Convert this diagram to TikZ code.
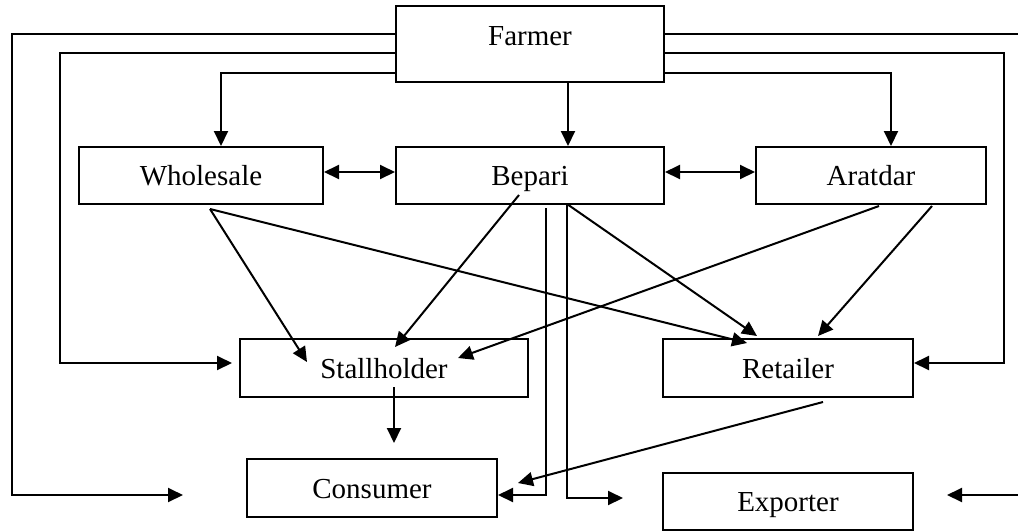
\documentclass[tikz,border=0pt]{standalone}
\usepackage{fontspec}
\setmainfont{Liberation Serif}
\usetikzlibrary{arrows.meta}
\begin{document}
\begin{tikzpicture}[x=1pt,y=-1pt,line width=2pt,
  box/.style={draw,rectangle,inner sep=0pt,font=\fontsize{29}{35}\selectfont,text height=20pt,text depth=0pt},
  arr/.style={-{Triangle[length=15pt,width=14pt]}},
  darr/.style={{Triangle[length=15pt,width=14pt]}-{Triangle[length=15pt,width=14pt]}}]
\useasboundingbox (0,0) rectangle (1018,531);
% boxes
\node[box,minimum width=268pt,minimum height=76pt,text depth=18pt] (F) at (530,44) {Farmer};
\node[box,minimum width=244pt,minimum height=57pt] (W) at (201,175.5) {Wholesale};
\node[box,minimum width=268pt,minimum height=57pt] (B) at (530,175.5) {Bepari};
\node[box,minimum width=230pt,minimum height=57pt] (A) at (871,175.5) {Aratdar};
\node[box,minimum width=288pt,minimum height=58pt] (S) at (384,368) {Stallholder};
\node[box,minimum width=250pt,minimum height=58pt] (R) at (788,368) {Retailer};
\node[box,minimum width=250pt,minimum height=58pt] (C) at (372,488) {Consumer};
\node[box,minimum width=250pt,minimum height=57pt] (E) at (788,501.5) {Exporter};
% free ends
\coordinate (fl) at (183,495);
\coordinate (fr) at (947,495);
\coordinate (fb) at (623,498);
% Farmer left side
\draw[arr] (F.west |- 0,34) -- (12,34) -- (12,495) -- (fl);
\draw[arr,shorten >=7pt] (F.west |- 0,53) -- (60,53) -- (60,363) -- (S.west |- 0,363);
\draw[arr] (F.west |- 0,73) -| ([xshift=20pt]W.north);
% Farmer right side
\draw[arr] (F.east |- 0,34) -- (1024,34) -- (1024,495) -- (fr);
\draw[arr] (F.east |- 0,53) -- (1004,53) -- (1004,363) -- (R.east |- 0,363);
\draw[arr] (F.east |- 0,73) -| ([xshift=20pt]A.north);
% Farmer to Bepari
\draw[arr] ([xshift=38pt]F.south) -- ([xshift=38pt]B.north);
% double arrows
\draw[darr] ([yshift=3.5pt]W.east) -- ([yshift=3.5pt]B.west);
\draw[darr] ([yshift=3.5pt]B.east) -- ([yshift=3.5pt]A.west);
% Wholesale
\draw[arr] ([xshift=9pt,yshift=-4pt]W.south) -- ([xshift=-77pt,yshift=6pt]S.center);
\draw[arr] ([xshift=9pt,yshift=-4pt]W.south) -- ([xshift=-41pt,yshift=25pt]R.center);
% Bepari
\draw[arr] ([xshift=-11pt,yshift=-19.5pt]B.center) -- ([xshift=11pt,yshift=21pt]S.center);
\draw[arr] ([xshift=37pt,yshift=1pt]B.south) -- ([xshift=-31pt,yshift=2pt]R.north);
\draw[arr] ([xshift=16pt,yshift=-3pt]B.south) -- (546,495) -- (C.east |- 0,495);
\draw[arr] ([xshift=37pt,yshift=1pt]B.south) -- (567,498) -- (fb);
% Aratdar
\draw[arr] ([xshift=8pt,yshift=-1pt]A.south) -- ([xshift=74pt,yshift=10pt]S.center);
\draw[arr] ([xshift=61pt,yshift=-1pt]A.south) -- ([xshift=30pt,yshift=2pt]R.north);
% Stallholder to Consumer
\draw[arr] ([xshift=10pt,yshift=-19pt]S.center) -- ([xshift=22pt,yshift=15pt]C.north);
% Retailer to Consumer
\draw[arr] ([xshift=35pt,yshift=-4pt]R.south) -- ([xshift=20pt,yshift=5pt]C.east);
\end{tikzpicture}
\end{document}
